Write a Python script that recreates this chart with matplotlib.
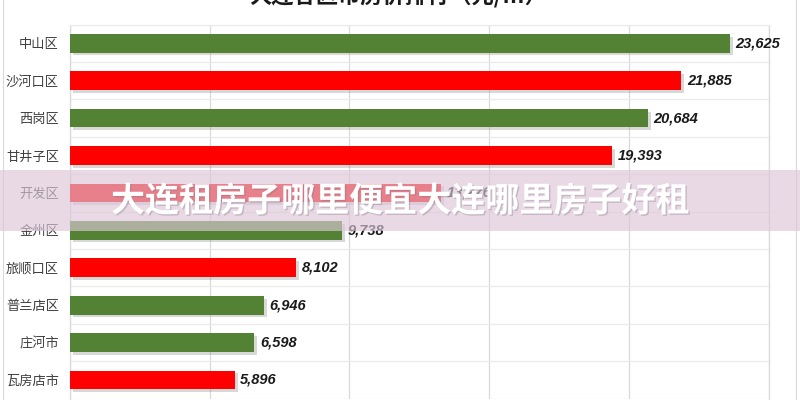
import matplotlib
matplotlib.use('Agg')
import matplotlib.pyplot as plt
import matplotlib.patheffects as pe
from matplotlib.patches import Rectangle

# data
districts = ['中山区', '沙河口区', '西岗区', '甘井子区', '开发区', '金州区', '旅顺口区', '普兰店区', '庄河市', '瓦房店市']
prices = [23625, 21885, 20684, 19393, 13276, 9738, 8102, 6946, 6598, 5896]
bar_colors = ['#548235', '#FF0000', '#548235', '#FF0000', '#FF0000', '#548235', '#FF0000', '#548235', '#548235', '#FF0000']
x_ticks = [0, 5000, 10000, 15000, 20000, 25000]

title = '大连各区市房价排行（元/㎡）'
banner = '大连租房子哪里便宜大连哪里房子好租'

plt.rcParams['font.family'] = ['Noto Sans CJK SC', 'DejaVu Sans']

fig = plt.figure(figsize=(8, 4), dpi=100)
ax = fig.add_axes([70 / 800, 1 - 398.7 / 400, 698.5 / 800, 374.1 / 400])

ypos = list(range(len(districts)))
bars = ax.barh(ypos, prices, height=0.5, color=bar_colors, zorder=3)
for b in bars:
    b.set_path_effects([pe.SimplePatchShadow(offset=(2, -2), shadow_rgbFace='#808080', alpha=0.3), pe.Normal()])

for y, v in zip(ypos, prices):
    ax.annotate(f'{v:,}', (v, y), xytext=(4, 0), textcoords='offset points',
                va='center', ha='left', fontsize=10.5, fontweight='bold', fontstyle='italic',
                family=['Liberation Sans', 'DejaVu Sans'], color='#1a1a1a', zorder=4)

ax.set_xlim(0, 25000)
ax.set_ylim(len(districts) - 0.5, -0.5)
ax.set_xticks(x_ticks)
ax.set_xticklabels([])
ax.set_yticks(ypos)
ax.set_yticklabels(districts, fontsize=9.5, color='#404040')
ax.set_yticks([i + 0.5 for i in range(-1, len(districts))], minor=True)
ax.tick_params(axis='both', which='both', length=0)
ax.tick_params(axis='y', pad=8)
ax.grid(axis='x', which='major', color='#D9D9D9', linewidth=0.9, zorder=0)
ax.grid(axis='y', which='minor', color='#EBEBEB', linewidth=0.9, zorder=0)
for s in ax.spines.values():
    s.set_color('#D9D9D9')
    s.set_linewidth(0.9)
ax.spines['top'].set_color('#EBEBEB')
ax.spines['bottom'].set_visible(False)

fig.text(0.4975, 1.01, title, ha='center', va='center', fontsize=16, fontweight='bold', color='#1a1a1a')

# outer chart border
fig.patches.append(Rectangle((3 / 800, -0.01), 793 / 800, 1.05, transform=fig.transFigure,
                             fill=False, edgecolor='#D9D9D9', linewidth=0.8, zorder=1))

# translucent banner over the chart
fig.patches.append(Rectangle((0, 1 - 230.7 / 400), 1, 60.7 / 400, transform=fig.transFigure,
                             facecolor='#DCC6D8', alpha=0.65, edgecolor='none', zorder=10))
fig.text(0.5, 1 - 201 / 400, banner, ha='center', va='center', fontsize=24.5, fontweight='heavy',
         color='white', zorder=11,
         path_effects=[pe.withSimplePatchShadow(offset=(1, -1), shadow_rgbFace='#7a6a78', alpha=0.3)])

fig.savefig('out.png', dpi=100)
